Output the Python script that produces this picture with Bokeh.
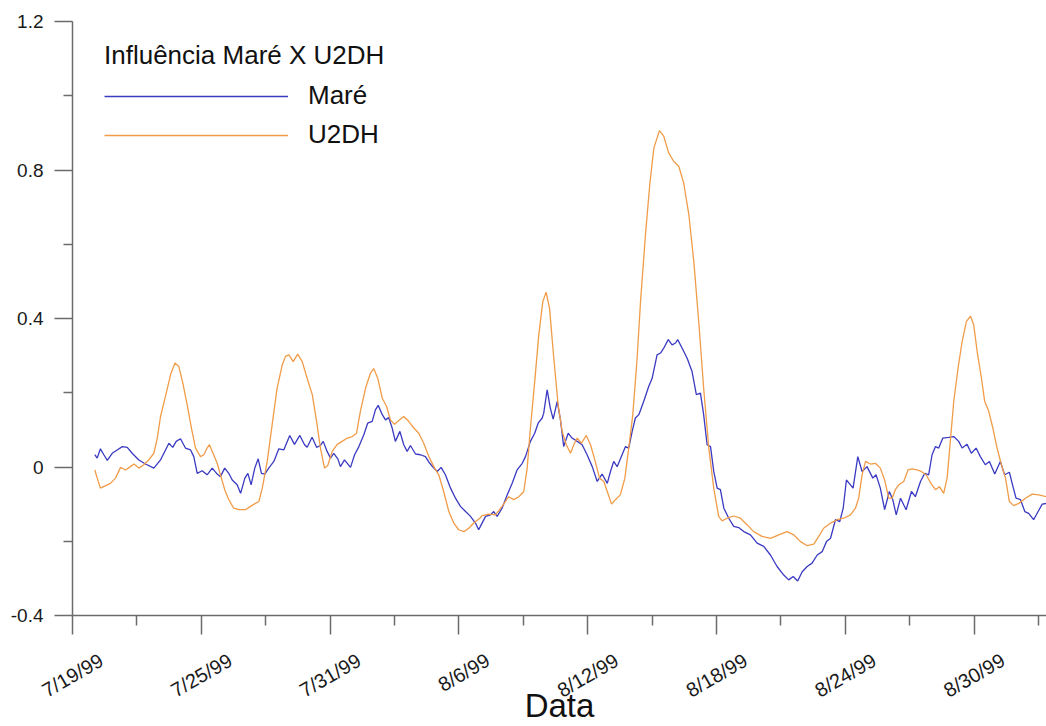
import math
from bokeh.plotting import figure
from bokeh.models import (ColumnDataSource, FixedTicker, CustomJSTickFormatter,
                          Range1d, Legend, LegendItem, LinearAxis)
from bokeh.embed import file_html
from bokeh.resources import INLINE

# x: days since 7/19/99
day_ticks = [0, 6, 12, 18, 24, 30, 36, 42]
day_tick_labels = ["7/19/99", "7/25/99", "7/31/99", "8/6/99", "8/12/99",
                   "8/18/99", "8/24/99", "8/30/99"]
day_minor_ticks = [3, 9, 15, 21, 27, 33, 39, 45]
y_ticks = [-0.4, 0, 0.4, 0.8, 1.2]
y_tick_labels = ["-0.4", "0", "0.4", "0.8", "1.2"]
y_minor_ticks = [-0.2, 0.2, 0.6, 1.0]

mare_days = [1.04, 1.15, 1.30, 1.46, 1.62, 1.85, 2.08, 2.32, 2.55, 2.78, 3.09, 3.40, 3.79, 4.10,
             4.49, 4.67, 4.83, 5.03, 5.26, 5.50, 5.65, 5.81, 6.04, 6.27, 6.51, 6.74, 6.89, 7.09,
             7.28, 7.44, 7.67, 7.83, 8.03, 8.17, 8.32, 8.49, 8.65, 8.80, 8.96, 9.14, 9.38, 9.61,
             9.84, 10.12, 10.34, 10.59, 10.81, 10.93, 11.16, 11.37, 11.55, 11.68, 11.86, 12.02,
             12.17, 12.36, 12.48, 12.67, 12.95, 13.14, 13.34, 13.57, 13.75, 13.96, 14.11, 14.24,
             14.43, 14.58, 14.73, 14.89, 15.04, 15.25, 15.43, 15.59, 15.74, 15.98, 16.21, 16.44,
             16.64, 16.83, 16.99, 17.17, 17.37, 17.61, 17.84, 18.07, 18.31, 18.54, 18.77, 18.92,
             19.00, 19.24, 19.47, 19.62, 19.78, 20.01, 20.25, 20.48, 20.71, 20.95, 21.10, 21.33,
             21.53, 21.69, 21.88, 21.95, 22.11, 22.26, 22.39, 22.58, 22.73, 22.88, 23.09, 23.27,
             23.51, 23.74, 23.97, 24.21, 24.44, 24.67, 24.91, 25.06, 25.21, 25.37, 25.60, 25.76,
             25.91, 26.07, 26.22, 26.38, 26.61, 26.84, 27.00, 27.23, 27.39, 27.54, 27.75, 27.93,
             28.09, 28.19, 28.40, 28.63, 28.86, 29.06, 29.25, 29.40, 29.56, 29.72, 29.87, 30.03,
             30.18, 30.34, 30.57, 30.80, 31.03, 31.27, 31.58, 31.89, 32.20, 32.51, 32.82, 33.13,
             33.36, 33.57, 33.78, 33.99, 34.22, 34.45, 34.69, 34.92, 35.12, 35.31, 35.54, 35.74,
             35.90, 36.05, 36.24, 36.36, 36.58, 36.78, 37.01, 37.28, 37.43, 37.63, 37.83, 38.05,
             38.21, 38.37, 38.57, 38.83, 39.08, 39.26, 39.50, 39.70, 39.88, 40.04, 40.20, 40.35,
             40.54, 40.82, 41.05, 41.28, 41.44, 41.67, 41.87, 42.09, 42.29, 42.52, 42.71, 42.96,
             43.22, 43.42, 43.64, 43.77, 43.95, 44.16, 44.36, 44.54, 44.77, 44.98, 45.17, 45.37]
mare_vals = [0.033, 0.024, 0.049, 0.033, 0.018, 0.037, 0.046, 0.055, 0.053, 0.037, 0.019, 0.008,
             -0.003, 0.019, 0.064, 0.053, 0.069, 0.076, 0.051, 0.046, 0.028, -0.017, -0.010,
             -0.021, -0.003, -0.019, -0.026, -0.003, -0.017, -0.035, -0.048, -0.071, -0.030,
             -0.017, -0.048, -0.003, 0.022, -0.017, -0.019, -0.003, 0.015, 0.049, 0.046, 0.085,
             0.061, 0.085, 0.060, 0.053, 0.080, 0.053, 0.058, 0.069, 0.042, 0.024, 0.037, 0.022,
             0.001, 0.019, -0.001, 0.033, 0.055, 0.087, 0.118, 0.123, 0.154, 0.166, 0.141, 0.127,
             0.133, 0.105, 0.069, 0.096, 0.060, 0.042, 0.058, 0.035, 0.033, 0.028, 0.010, -0.003,
             -0.012, -0.001, -0.021, -0.057, -0.084, -0.106, -0.120, -0.133, -0.151, -0.169,
             -0.160, -0.133, -0.129, -0.120, -0.133, -0.111, -0.075, -0.044, -0.008, 0.010, 0.028,
             0.069, 0.091, 0.118, 0.132, 0.145, 0.208, 0.158, 0.129, 0.177, 0.127, 0.055, 0.091,
             0.078, 0.069, 0.060, 0.033, 0.001, -0.039, -0.019, -0.044, -0.012, 0.015, 0.001,
             0.033, 0.055, 0.051, 0.096, 0.132, 0.141, 0.177, 0.217, 0.239, 0.302, 0.307, 0.320,
             0.343, 0.329, 0.334, 0.343, 0.320, 0.293, 0.257, 0.195, 0.199, 0.141, 0.060, 0.055,
             -0.012, -0.057, -0.061, -0.111, -0.138, -0.160, -0.163, -0.174, -0.183, -0.205,
             -0.214, -0.237, -0.268, -0.291, -0.304, -0.295, -0.307, -0.282, -0.268, -0.259,
             -0.237, -0.228, -0.201, -0.192, -0.142, -0.147, -0.111, -0.035, -0.048, -0.057,
             0.028, -0.012, 0.001, -0.030, -0.021, -0.057, -0.115, -0.066, -0.088, -0.129, -0.084,
             -0.115, -0.066, -0.080, -0.039, -0.017, -0.021, 0.033, 0.055, 0.051, 0.078, 0.080,
             0.082, 0.069, 0.051, 0.061, 0.037, 0.051, 0.028, 0.006, 0.015, -0.019, 0.015, -0.021,
             -0.014, -0.044, -0.084, -0.088, -0.120, -0.125, -0.142, -0.120, -0.100, -0.098]

u2dh_days = [1.04, 1.15, 1.30, 1.54, 1.77, 2.00, 2.24, 2.47, 2.70, 2.86, 3.09, 3.32, 3.55, 3.79,
             3.95, 4.10, 4.33, 4.57, 4.77, 4.95, 5.14, 5.34, 5.54, 5.73, 5.96, 6.12, 6.27, 6.38,
             6.51, 6.74, 6.89, 7.09, 7.28, 7.51, 7.75, 8.06, 8.29, 8.52, 8.68, 8.84, 9.07, 9.30,
             9.53, 9.77, 9.92, 10.08, 10.28, 10.49, 10.70, 10.93, 11.17, 11.37, 11.55, 11.74,
             11.89, 12.10, 12.33, 12.56, 12.80, 13.03, 13.23, 13.41, 13.65, 13.88, 14.03, 14.22,
             14.43, 14.63, 14.81, 15.00, 15.20, 15.43, 15.66, 15.90, 16.13, 16.36, 16.60, 16.83,
             17.06, 17.29, 17.53, 17.76, 17.99, 18.23, 18.46, 18.69, 18.97, 19.08, 19.39, 19.70,
             20.01, 20.32, 20.55, 20.79, 21.02, 21.18, 21.33, 21.53, 21.72, 21.91, 22.06, 22.22,
             22.42, 22.62, 22.81, 23.00, 23.20, 23.35, 23.51, 23.71, 23.93, 24.13, 24.33, 24.55,
             24.75, 24.91, 25.11, 25.29, 25.52, 25.73, 25.91, 26.10, 26.30, 26.46, 26.69, 26.89,
             27.08, 27.34, 27.54, 27.77, 28.01, 28.24, 28.47, 28.71, 28.94, 29.17, 29.40, 29.64,
             29.87, 30.10, 30.26, 30.49, 30.80, 31.11, 31.43, 31.73, 32.12, 32.51, 32.90, 33.29,
             33.60, 33.91, 34.22, 34.53, 34.76, 34.99, 35.31, 35.62, 35.92, 36.24, 36.47, 36.62,
             36.78, 36.94, 37.17, 37.40, 37.63, 37.83, 38.02, 38.18, 38.33, 38.49, 38.72, 38.92,
             39.11, 39.34, 39.54, 39.76, 40.01, 40.20, 40.38, 40.58, 40.74, 40.89, 41.05, 41.25,
             41.44, 41.64, 41.83, 41.98, 42.14, 42.34, 42.49, 42.68, 42.87, 43.07, 43.27, 43.46,
             43.64, 43.84, 44.08, 44.39, 44.70, 45.01, 45.37]
u2dh_vals = [-0.008, -0.030, -0.057, -0.050, -0.044, -0.030, -0.001, -0.008, 0.001, 0.008, -0.003,
             0.006, 0.019, 0.037, 0.078, 0.136, 0.190, 0.249, 0.280, 0.271, 0.226, 0.168, 0.105,
             0.051, 0.028, 0.033, 0.051, 0.060, 0.042, 0.010, -0.021, -0.061, -0.088, -0.111,
             -0.115, -0.115, -0.106, -0.098, -0.093, -0.057, 0.015, 0.114, 0.212, 0.275, 0.298,
             0.302, 0.284, 0.304, 0.284, 0.239, 0.195, 0.123, 0.051, -0.003, 0.004, 0.042, 0.061,
             0.069, 0.078, 0.082, 0.091, 0.150, 0.212, 0.253, 0.265, 0.239, 0.185, 0.163, 0.127,
             0.115, 0.125, 0.136, 0.123, 0.105, 0.091, 0.064, 0.028, 0.001, -0.021, -0.066,
             -0.120, -0.151, -0.169, -0.174, -0.165, -0.151, -0.138, -0.131, -0.127, -0.129,
             -0.106, -0.080, -0.088, -0.080, -0.066, -0.003, 0.105, 0.230, 0.356, 0.446, 0.471,
             0.428, 0.293, 0.168, 0.096, 0.060, 0.037, 0.060, 0.078, 0.064, 0.085, 0.060, 0.019,
             -0.030, -0.039, -0.066, -0.100, -0.088, -0.075, -0.030, 0.051, 0.141, 0.293, 0.446,
             0.626, 0.761, 0.859, 0.906, 0.891, 0.846, 0.823, 0.810, 0.765, 0.680, 0.554, 0.392,
             0.212, 0.051, -0.057, -0.133, -0.145, -0.138, -0.132, -0.138, -0.156, -0.174, -0.187,
             -0.192, -0.183, -0.174, -0.183, -0.201, -0.212, -0.208, -0.187, -0.165, -0.151,
             -0.142, -0.138, -0.129, -0.111, -0.084, -0.021, 0.015, 0.008, 0.010, -0.003, -0.035,
             -0.084, -0.084, -0.061, -0.048, -0.039, -0.008, -0.005, -0.008, -0.012, -0.021,
             -0.046, -0.061, -0.053, -0.071, -0.030, 0.069, 0.177, 0.266, 0.338, 0.392, 0.406,
             0.383, 0.311, 0.239, 0.177, 0.150, 0.105, 0.051, 0.006, -0.030, -0.093, -0.104,
             -0.098, -0.084, -0.073, -0.075, -0.080]

FONT = "Liberation Sans"
AXIS_COLOR = "#6b6b6b"
MARE_COLOR = "#3a3ac2"
U2DH_COLOR = "#f09c48"
LABEL_SHIFT_DAYS = 1.35   # rotated date labels sit centred under their ticks

p = figure(width=1046, height=726, output_backend="svg", toolbar_location=None,
           x_range=Range1d(0, 45.37), y_range=Range1d(-0.4, 1.2),
           min_border_left=72, min_border_right=0, min_border_top=21,
           min_border_bottom=111)
p.outline_line_color = None
p.grid.visible = False
p.background_fill_color = "white"
p.border_fill_color = "white"

mare_src = ColumnDataSource(dict(x=mare_days, y=mare_vals))
u2dh_src = ColumnDataSource(dict(x=u2dh_days, y=u2dh_vals))
r_mare = p.line("x", "y", source=mare_src, line_color=MARE_COLOR, line_width=1.3)
r_u2dh = p.line("x", "y", source=u2dh_src, line_color=U2DH_COLOR, line_width=1.3)

fmt_code = """
for (let i = 0; i < tvals.length; i++) {
  if (Math.abs(tvals[i] - tick) < 1e-6) { return tlabels[i]; }
}
return '';
"""

# x axis 1: line and tick marks only
xa = p.xaxis[0]
xa.ticker = FixedTicker(ticks=day_ticks, minor_ticks=day_minor_ticks)
xa.formatter = CustomJSTickFormatter(code="return '';")
xa.major_label_text_font_size = "0px"
xa.major_label_standoff = 0
xa.major_tick_out = 19
xa.major_tick_in = 0
xa.minor_tick_out = 10
xa.minor_tick_in = 0

# x axis 2: rotated date labels and axis title
label_ticks = [t + LABEL_SHIFT_DAYS for t in day_ticks]
xl = LinearAxis(ticker=FixedTicker(ticks=label_ticks, minor_ticks=[]),
                formatter=CustomJSTickFormatter(args=dict(tvals=label_ticks, tlabels=day_tick_labels),
                                                code=fmt_code))
xl.axis_line_color = None
xl.major_tick_line_color = None
xl.minor_tick_line_color = None
xl.major_tick_out = 0
xl.major_tick_in = 0
xl.minor_tick_out = 0
xl.minor_tick_in = 0
xl.major_label_orientation = math.pi / 6
xl.major_label_standoff = 24
xl.major_label_text_font = FONT
xl.major_label_text_font_size = "20px"
xl.major_label_text_color = "#1a1a1a"
xl.axis_label = "Data"
xl.axis_label_text_font = FONT
xl.axis_label_text_font_size = "33px"
xl.axis_label_text_font_style = "normal"
xl.axis_label_text_color = "#111111"
xl.axis_label_standoff = -27
p.add_layout(xl, "below")

ya = p.yaxis[0]
ya.ticker = FixedTicker(ticks=y_ticks, minor_ticks=y_minor_ticks)
ya.formatter = CustomJSTickFormatter(args=dict(tvals=y_ticks, tlabels=y_tick_labels), code=fmt_code)
ya.major_tick_out = 18
ya.major_tick_in = 0
ya.minor_tick_out = 9
ya.minor_tick_in = 0
ya.major_label_standoff = 11
ya.major_label_text_font = FONT
ya.major_label_text_font_size = "19px"
ya.major_label_text_color = "#1a1a1a"

for ax in (xa, ya):
    ax.axis_line_color = AXIS_COLOR
    ax.axis_line_width = 1.5
    ax.major_tick_line_color = AXIS_COLOR
    ax.major_tick_line_width = 1.5
    ax.minor_tick_line_color = AXIS_COLOR
    ax.minor_tick_line_width = 1.5

legend = Legend(items=[LegendItem(label="Maré", renderers=[r_mare]),
                       LegendItem(label="U2DH", renderers=[r_u2dh])],
                title="Influência Maré X U2DH", location=(32, 465))
legend.title_text_font = FONT
legend.title_text_font_size = "26px"
legend.title_text_font_style = "normal"
legend.title_text_color = "#111111"
legend.title_standoff = 9
legend.label_text_font = FONT
legend.label_text_font_size = "26px"
legend.label_text_color = "#111111"
legend.glyph_width = 184
legend.glyph_height = 30
legend.label_standoff = 20
legend.spacing = 8
legend.padding = 0
legend.margin = 0
legend.border_line_color = None
legend.background_fill_alpha = 0
p.add_layout(legend)

open("out.html", "w").write(file_html(p, INLINE))
